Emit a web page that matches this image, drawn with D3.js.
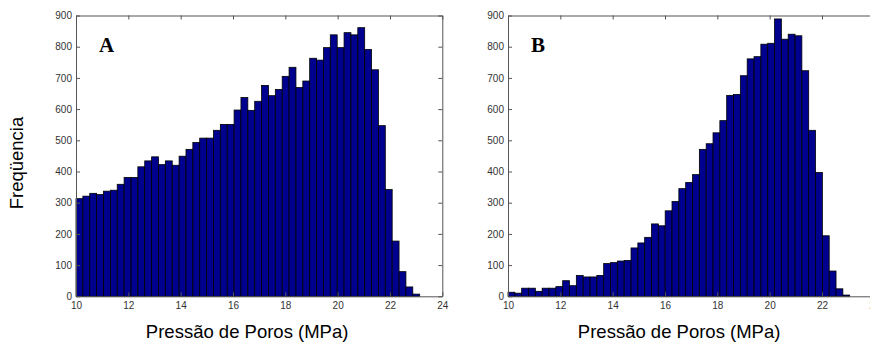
<!DOCTYPE html>
<html>
<head>
<meta charset="utf-8">
<script src="https://cdn.jsdelivr.net/npm/d3@7"></script>
<style>
  html, body { margin: 0; padding: 0; background: #fff; }
  svg { display: block; }
  .tick text { font-family: "Liberation Sans", Arial, sans-serif; font-size: 10px; fill: #333; }
  .axis path, .axis line { stroke: #555; }
</style>
</head>
<body>
<svg id="chart" width="870" height="347"></svg>
<script>
// ---- data ----
const panelLabels = ["A", "B"];
const xTicks = [10, 12, 14, 16, 18, 20, 22, 24];
const yTicks = [0, 100, 200, 300, 400, 500, 600, 700, 800, 900];
const rangeA = [10, 23.135];
const rangeB = [10, 23.06];
const countsA = [313,321,330,326,337,340,359,381,381,415,434,447,422,434,420,449,471,493,507,507,532,551,551,597,637,
                 596,625,676,643,663,705,734,669,690,763,757,797,838,797,845,838,861,791,726,547,342,177,79,30,7];
const countsB = [13,10,26,26,16,26,26,31,50,34,67,62,62,67,105,108,113,115,155,171,189,232,226,274,304,
                 345,365,390,471,489,524,563,644,647,707,761,768,808,811,889,824,840,835,723,532,397,194,81,24,4];
const xTitle = "Pressão de Poros (MPa)";
const yTitle = "Freqüencia";

// ---- layout ----
const svg = d3.select("#chart");
const plotTop = 15.5, plotBottom = 296.3;
const panels = [
  { left: 76, right: 442.3, counts: countsA, range: rangeA, label: panelLabels[0], yTitle: true },
  { left: 508, right: 874.3, counts: countsB, range: rangeB, label: panelLabels[1], yTitle: false }
];

const y = d3.scaleLinear().domain([0, 900]).range([plotBottom, plotTop]);

panels.forEach(p => {
  const x = d3.scaleLinear().domain([10, 24]).range([p.left, p.right]);
  const n = p.counts.length;
  const w = (p.range[1] - p.range[0]) / n;
  const bins = p.counts.map((c, i) => ({ x0: p.range[0] + i * w, x1: p.range[0] + (i + 1) * w, c }));

  const g = svg.append("g");

  g.selectAll("rect.bar").data(bins).enter().append("rect")
    .attr("class", "bar")
    .attr("x", d => x(d.x0))
    .attr("y", d => y(d.c))
    .attr("width", d => x(d.x1) - x(d.x0))
    .attr("height", d => y(0) - y(d.c))
    .attr("fill", "#00008F")
    .attr("stroke", "#000")
    .attr("stroke-width", 0.8);

  // axes box
  g.append("g").attr("class", "axis").attr("transform", `translate(0,${plotBottom})`)
    .call(d3.axisBottom(x).tickValues(xTicks).tickFormat(d3.format("d")).tickSizeInner(-4).tickSizeOuter(0).tickPadding(6));
  g.append("g").attr("class", "axis").attr("transform", `translate(0,${plotTop})`)
    .call(d3.axisTop(x).tickValues(xTicks).tickFormat("").tickSizeInner(-4).tickSizeOuter(0));
  g.append("g").attr("class", "axis").attr("transform", `translate(${p.left},0)`)
    .call(d3.axisLeft(y).tickValues(yTicks).tickFormat(d3.format("d")).tickSizeInner(-4).tickSizeOuter(0).tickPadding(4));
  g.append("g").attr("class", "axis").attr("transform", `translate(${p.right},0)`)
    .call(d3.axisRight(y).tickValues(yTicks).tickFormat("").tickSizeInner(-4).tickSizeOuter(0));

  // panel letter
  g.append("text")
    .attr("x", x(10) + 23).attr("y", 52.3)
    .attr("font-family", "'Liberation Serif', 'Times New Roman', serif")
    .attr("font-weight", "bold").attr("font-size", 21)
    .attr("fill", "#000")
    .text(p.label);

  // x title
  g.append("text")
    .attr("x", (p.left + p.right) / 2 - 12).attr("y", 338)
    .attr("text-anchor", "middle")
    .attr("font-family", "'Liberation Sans', Arial, sans-serif")
    .attr("font-size", 18.5).attr("fill", "#000")
    .text(xTitle);

  if (p.yTitle) {
    g.append("text")
      .attr("transform", `translate(23,${163}) rotate(-90)`)
      .attr("text-anchor", "middle")
      .attr("font-family", "'Liberation Sans', Arial, sans-serif")
      .attr("font-size", 18.5).attr("fill", "#000")
      .text(yTitle);
  }
});
</script>
</body>
</html>
